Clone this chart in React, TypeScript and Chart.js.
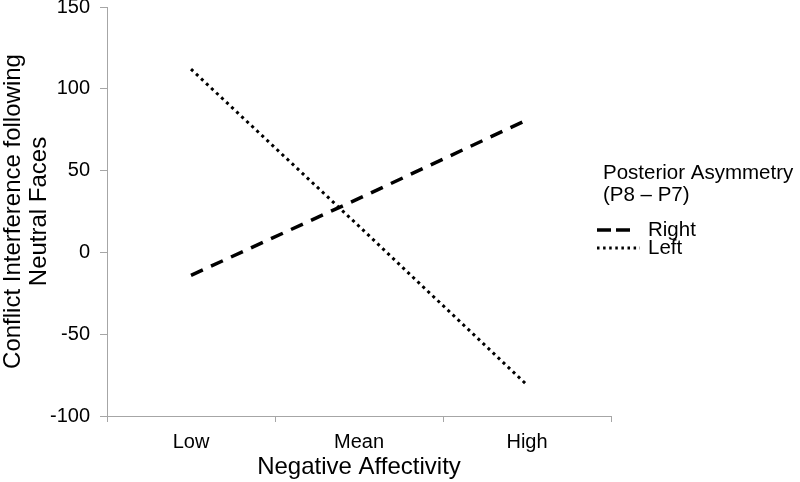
import { useEffect, useRef } from 'react';
import { Chart, registerables } from 'chart.js';

Chart.register(...registerables);

const categories = ['Low', 'Mean', 'High'];
const rightValues = [-14, 33, 81];
const leftValues = [112, 16, -81];
const yMin = -100;
const yMax = 150;
const yStep = 50;
const seriesLabels = ['Right', 'Left'];
const legendTitle = ['Posterior Asymmetry', '(P8 – P7)'];
const xTitle = 'Negative Affectivity';
const yTitle = ['Conflict Interference following', 'Neutral Faces'];

const FONT = '"Liberation Sans", Arial, Helvetica, sans-serif';
const AXIS_COLOR = '#a6a6a6';

const legendPlugin = {
  id: 'customLegend',
  afterDraw(chart: any) {
    const ctx = chart.ctx as CanvasRenderingContext2D;
    const area = chart.chartArea;
    const x0 = area.right - 14;
    const midY = (area.top + area.bottom) / 2;
    ctx.save();
    ctx.fillStyle = '#000';
    ctx.textBaseline = 'middle';
    ctx.textAlign = 'left';
    ctx.font = `20.5px ${FONT}`;
    legendTitle.forEach((t, i) => {
      ctx.fillText(t, x0 + 6, midY - 38 + i * 22);
    });
    chart.data.datasets.forEach((ds: any, i: number) => {
      const y = midY + 18.5 + i * 18;
      ctx.beginPath();
      ctx.strokeStyle = ds.borderColor;
      ctx.lineWidth = ds.borderWidth;
      ctx.lineCap = 'butt';
      ctx.setLineDash(i === 0 ? [14, 5] : [2.5, 3.6]);
      ctx.moveTo(x0, y);
      ctx.lineTo(x0 + (i === 0 ? 36 : 43), y);
      ctx.stroke();
      ctx.setLineDash([]);
      ctx.font = `20.5px ${FONT}`;
      ctx.fillText(ds.label, x0 + 51, y);
    });
    ctx.restore();
  },
};

export default function App() {
  const ref = useRef<HTMLCanvasElement>(null);
  useEffect(() => {
    if (!ref.current) return;
    const chart = new Chart(ref.current, {
      type: 'line',
      data: {
        labels: categories,
        datasets: [
          {
            label: seriesLabels[0],
            data: rightValues,
            borderColor: '#000',
            borderWidth: 3.5,
            borderDash: [13, 9],
            borderCapStyle: 'butt',
            pointRadius: 0,
            tension: 0,
            fill: false,
          },
          {
            label: seriesLabels[1],
            data: leftValues,
            borderColor: '#000',
            borderWidth: 3,
            borderDash: [3, 3.9],
            borderCapStyle: 'butt',
            pointRadius: 0,
            tension: 0,
            fill: false,
          },
        ],
      },
      options: {
        responsive: false,
        animation: false,
        layout: { padding: { top: 0, right: 189, bottom: 0, left: 0 } },
        plugins: {
          legend: { display: false },
          tooltip: { enabled: false },
        },
        scales: {
          x: {
            type: 'category',
            offset: true,
            grid: {
              display: true,
              drawOnChartArea: false,
              drawTicks: true,
              tickLength: 6,
              color: AXIS_COLOR,
              offset: true,
            },
            border: { display: true, color: AXIS_COLOR, width: 1 },
            ticks: {
              color: '#000',
              font: { family: FONT, size: 20 },
              padding: 8,
            },
            title: {
              display: true,
              text: xTitle,
              color: '#000',
              font: { family: FONT, size: 24 },
              padding: { top: 0, bottom: 0 },
            },
            afterFit(scale: any) {
              scale.height = 66;
            },
          },
          y: {
            min: yMin,
            max: yMax,
            grid: {
              display: true,
              drawOnChartArea: false,
              drawTicks: true,
              tickLength: 7,
              color: AXIS_COLOR,
            },
            border: { display: true, color: AXIS_COLOR, width: 1 },
            ticks: {
              stepSize: yStep,
              color: '#000',
              font: { family: FONT, size: 20 },
              padding: 10,
            },
            title: {
              display: true,
              text: yTitle,
              color: '#000',
              font: { family: FONT, size: 24, lineHeight: 1.1 },
              padding: { top: 0, bottom: 0 },
            },
            afterFit(scale: any) {
              scale.width = 107;
              scale.paddingTop = 7;
              scale.paddingBottom = 0;
            },
          },
        },
      },
      plugins: [legendPlugin],
    } as any);
    return () => chart.destroy();
  }, []);
  return (
    <div style={{ position: 'absolute', left: 0, top: 0, width: 800, height: 482, background: '#fff' }}>
      <canvas ref={ref} width={800} height={482} style={{ display: 'block' }} />
    </div>
  );
}
